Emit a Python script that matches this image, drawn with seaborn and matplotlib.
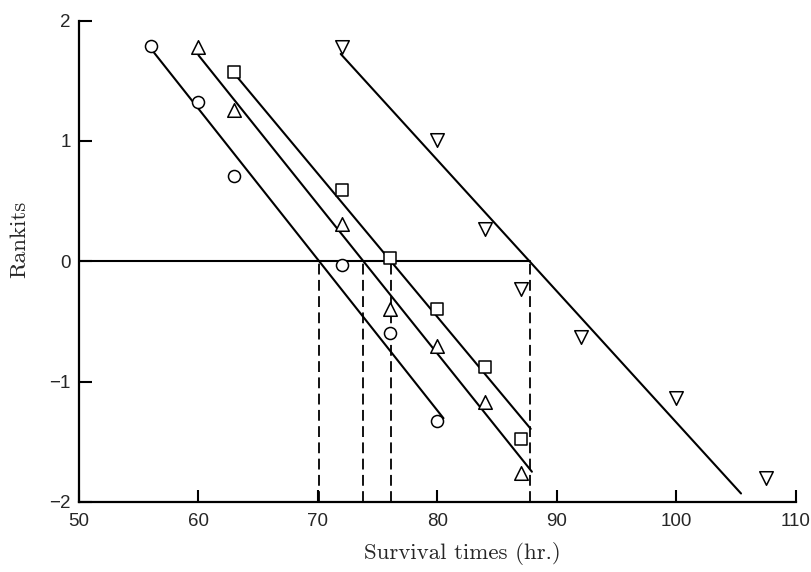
import numpy as np
import pandas as pd
import matplotlib
matplotlib.use("Agg")
import matplotlib.pyplot as plt
import seaborn as sns

# ---- data ----
circ_x = [56, 60, 63, 72, 76, 80]
circ_y = [1.79, 1.32, 0.71, -0.03, -0.60, -1.33]
tri_x = [60, 63, 72, 76, 80, 84, 87]
tri_y = [1.78, 1.26, 0.31, -0.40, -0.70, -1.17, -1.76]
sq_x = [63, 72, 76, 80, 84, 87]
sq_y = [1.57, 0.59, 0.03, -0.40, -0.88, -1.48]
inv_x = [72, 80, 84, 87, 92, 100, 107.5]
inv_y = [1.78, 1.01, 0.27, -0.23, -0.63, -1.14, -1.80]

groups = ["circle", "triangle", "square", "invtri"]
# fitted lines: x where rankit = 0 (median), slope, x-range drawn
fit_median = [70.1, 73.8, 76.1, 87.7]
fit_slope = [-0.1254, -0.124, -0.119, -0.109]
fit_x_start = [56.0, 60.0, 63.0, 71.9]
fit_x_end = [80.5, 87.9, 87.8, 105.4]

x_ticks = [50, 60, 70, 80, 90, 100, 110]
y_ticks = [-2, -1, 0, 1, 2]

sns.set_style("ticks")

fig = plt.figure(figsize=(8.12, 5.72), dpi=100)
ax = fig.add_axes([79 / 812, 70 / 572, 717 / 812, 481.5 / 572])

# fitted lines
rows = []
for g, m, s, x0, x1 in zip(groups, fit_median, fit_slope, fit_x_start, fit_x_end):
    for xx in (x0, x1):
        rows.append({"x": xx, "y": s * (xx - m), "g": g})
lines_df = pd.DataFrame(rows)
sns.lineplot(data=lines_df, x="x", y="y", units="g", estimator=None,
             color="black", lw=1.5, ax=ax, sort=False, zorder=2)

# zero line up to the last median
ax.plot([50, max(fit_median)], [0, 0], color="black", lw=1.5, zorder=2)

# dashed verticals at the medians
for m in fit_median:
    ax.plot([m, m], [-2, 0], color="black", lw=1.3, ls=(0, (6, 3)), zorder=2)

# points
pts = pd.DataFrame({
    "x": circ_x + tri_x + sq_x + inv_x,
    "y": circ_y + tri_y + sq_y + inv_y,
    "g": (["circle"] * len(circ_x) + ["triangle"] * len(tri_x)
          + ["square"] * len(sq_x) + ["invtri"] * len(inv_x)),
})
markers = {"circle": "o", "triangle": "^", "square": "s", "invtri": "v"}
sizes = {"circle": 75, "triangle": 95, "square": 85, "invtri": 95}
for g in groups:
    sub = pts[pts["g"] == g]
    sns.scatterplot(data=sub, x="x", y="y", marker=markers[g], s=sizes[g],
                    facecolor="white", edgecolor="black", linewidth=1.1,
                    ax=ax, zorder=3, legend=False)

ax.set_xlim(50, 110)
ax.set_ylim(-2, 2)
ax.set_xticks(x_ticks)
ax.set_yticks(y_ticks)
ax.set_xticklabels([str(t) for t in x_ticks], family="Liberation Sans", fontsize=13.5)
ax.set_yticklabels([("\u2212" + str(-t)) if t < 0 else str(t) for t in y_ticks],
                   family="Liberation Sans", fontsize=13.5)
ax.tick_params(direction="in", length=9, width=1.5, color="black")
ax.tick_params(axis="x", pad=8)
ax.tick_params(axis="y", pad=6)
for sp in ("top", "right"):
    ax.spines[sp].set_visible(False)
for sp in ("left", "bottom"):
    ax.spines[sp].set_linewidth(1.6)
    ax.spines[sp].set_color("black")

ax.set_xlabel("Survival times (hr.)", family=["cmr10", "DejaVu Serif"], fontsize=16.5)
ax.set_ylabel("Rankits", family=["cmr10", "DejaVu Serif"], fontsize=16.5)
ax.xaxis.set_label_coords(0.534, -0.084)
ax.yaxis.set_label_coords(-0.070, 0.545)

fig.savefig("out.png", dpi=100)
